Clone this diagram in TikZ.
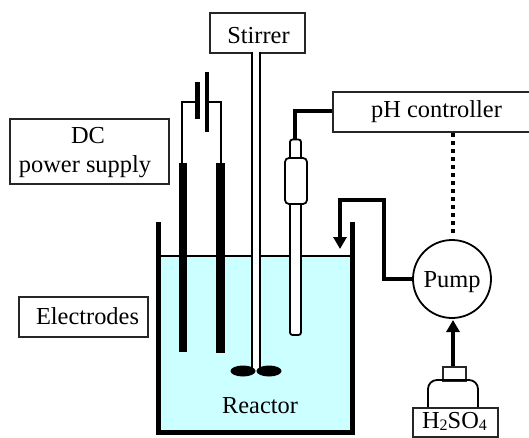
\documentclass[tikz,border=0pt]{standalone}
\usepackage{fontspec}
\setmainfont{Liberation Serif}
\usetikzlibrary{arrows.meta}
\definecolor{water}{HTML}{CCFFFF}
\tikzset{
  x=1pt,y=-1pt,
  box/.style={draw=black!85,line width=1.8pt,fill=white,rectangle,inner sep=0pt,anchor=north west},
  lbl/.style={anchor=base,inner sep=0pt,font=\fontsize{24.4}{28}\selectfont},
  wire/.style={draw=black,line width=2pt},
  tube/.style={draw=black,line width=4.2pt,line cap=butt},
  solid block/.style={fill=black,draw=none},
  probe/.style={draw=black,line width=1.8pt,fill=white,rounded corners=2.5pt},
  flow/.style={tube,-{Triangle[length=12pt,width=13pt]}},
}
\begin{document}
\begin{tikzpicture}
\useasboundingbox (0,0) rectangle (529,438);
% reactor
\fill[water] (158,256) rectangle (352,432);
\draw[line width=1.6pt] (158,256) -- (352,256);
\draw[line width=5pt,line join=miter] (158,222) -- (158,432.5) -- (352,432.5) -- (352,222);
% stirrer
\node[box,minimum width=95pt,minimum height=40pt] (stirrer) at (209,12) {};
\node[lbl] at (258.5,44) {Stirrer};
\fill[white] (252,52) rectangle (260,370);
\draw[line width=2pt] (252,52) -- (252,370) (260,52) -- (260,370);
\fill[black] (243,371) ellipse [x radius=12.5,y radius=5.5];
\fill[black] (269,371) ellipse [x radius=12.5,y radius=5.5];
% electrodes
\fill[solid block] (179,163) rectangle (187,352);
\fill[solid block] (216,163) rectangle (225,353);
% battery
\coordinate (anode) at (197,102);
\coordinate (cathode) at (207,102);
\fill[solid block] (195,82) rectangle (200,119.5);
\fill[solid block] (205,72) rectangle (209,132.5);
\draw[wire] (182,163) |- (anode);
\draw[wire] (221,163) |- (cathode);
% boxes
\node[box,minimum width=159pt,minimum height=65pt] (dc) at (9,118) {};
\node[lbl] at (88,144) {DC};
\node[lbl] at (85,173) {power supply};
\node[box,minimum width=129pt,minimum height=40pt] (electrodes) at (18,296) {};
\node[lbl] at (87.5,324) {Electrodes};
\node[lbl] at (260,413) {Reactor};
% probe
\draw[probe] (290,152) -- (290,335) -- (301,335) -- (301,152) -- cycle;
\draw[probe] (290,158) -- (290,139.5) -- (301,139.5) -- (301,158);
\draw[probe,rounded corners=4pt] (285,158) rectangle (307,204);
% pH
\node[box,minimum width=198pt,minimum height=40pt] (ph) at (332,91) {};
\node[lbl] at (436.5,118) {pH controller};
\coordinate (probetop) at (295,139.5);
\draw[tube,line join=miter] (ph.west |- 0,111) -| (probetop);
% pump
\node[circle,draw=black,line width=1.8pt,fill=white,minimum size=78pt,inner sep=0pt] (pump) at (452,279) {};
\node[lbl] at (452,287) {Pump};
\coordinate (outlet) at (340,249);
\draw[flow,line join=miter] (pump.west) -- (384,279) -- (384,200) -- (340,200) -- (outlet);
\draw[line width=4pt,dash pattern=on 4pt off 4pt] (ph.south -| pump.north) ++(1,0) -- (453,236);
% bottle
\node[box,minimum width=23pt,minimum height=14pt] (cap) at (442,366) {};
\draw[line width=1.8pt,rounded corners=9pt] (428,407) -- (428,380) -- (478,380) -- (478,407);
\node[box,minimum width=85pt,minimum height=29pt] (acid) at (412,407) {};
\node[lbl] at (454.5,428) {H\raisebox{-0.2ex}{\fontsize{16}{16}\selectfont 2}SO\raisebox{-0.2ex}{\fontsize{16}{16}\selectfont 4}};
\draw[flow] (cap.north -| 453,0) -- (453,320);
\end{tikzpicture}
\end{document}
